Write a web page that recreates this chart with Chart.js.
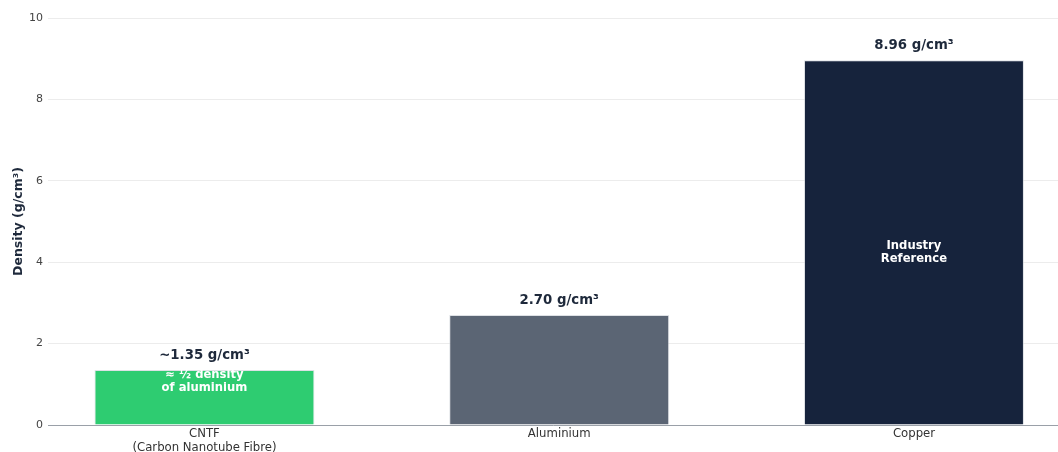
<!DOCTYPE html>
<html>
<head>
<meta charset="utf-8">
<script src="https://cdn.jsdelivr.net/npm/chart.js@4.4.1/dist/chart.umd.min.js"></script>
<style>
  html, body { margin: 0; padding: 0; background: #fff; overflow: hidden; }
  #wrap { width: 1058px; height: 452px; }
</style>
</head>
<body>
<div id="wrap"><canvas id="chart"></canvas></div>
<script>
// data
let categories = [['CNTF', '(Carbon Nanotube Fibre)'], 'Aluminium', 'Copper'];
let densities = [1.35, 2.70, 8.96];
let valueLabels = ['~1.35 g/cm³', '2.70 g/cm³', '8.96 g/cm³'];
let insideLabels = [['≈ ½ density', 'of aluminium'], null, ['Industry', 'Reference']];
let barColors = ['#2ecc71', '#5b6574', '#16233c'];
let yTicks = [0, 2, 4, 6, 8, 10];

let fontFamily = '"DejaVu Sans", Verdana, sans-serif';

// draws the value above each bar and the note inside it
let barText = {
    id: 'barText',
    afterDatasetsDraw(chart) {
        let ctx = chart.ctx;
        let meta = chart.getDatasetMeta(0);
        ctx.save();
        ctx.textAlign = 'center';
        ctx.textBaseline = 'middle';
        meta.data.forEach((bar, i) => {
            ctx.fillStyle = '#1e293b';
            ctx.font = 'bold 13.3px ' + fontFamily;
            ctx.fillText(valueLabels[i], bar.x, bar.y - 15);

            let lines = insideLabels[i];
            if (!lines) return;
            let h = bar.base - bar.y;
            let mid = h > 100 ? (bar.y + bar.base) / 2 + 10 : bar.y + 11;
            ctx.fillStyle = '#ffffff';
            ctx.font = 'bold 11.6px ' + fontFamily;
            ctx.fillText(lines[0], bar.x, mid - 6.5);
            ctx.fillText(lines[1], bar.x, mid + 6.5);
        });
        ctx.restore();
    }
};

new Chart(document.getElementById('chart'), {
    type: 'bar',
    data: {
        datasets: [{
            data: densities.map((d, i) => ({ x: i, y: d })),
            backgroundColor: barColors,
            borderColor: 'rgba(200,205,212,0.6)',
            borderWidth: 1,
            barPercentage: 0.62,
            categoryPercentage: 1
        }]
    },
    options: {
        responsive: true,
        maintainAspectRatio: false,
        animation: false,
        layout: { padding: { top: 18, right: 0, left: 0, bottom: 0 } },
        plugins: {
            legend: { display: false },
            tooltip: { enabled: false }
        },
        scales: {
            x: {
                type: 'linear',
                offset: false,
                min: -0.441,
                max: 2.406,
                afterBuildTicks(axis) {
                    axis.ticks = categories.map((c, i) => ({ value: i }));
                },
                afterFit(axis) { axis.height = 27; },
                ticks: {
                    callback: (v) => categories[v],
                    color: '#333',
                    font: { family: fontFamily, size: 11.7 },
                    padding: 2,
                    maxRotation: 0,
                    autoSkip: false
                },
                grid: { display: false, drawTicks: false },
                border: { display: true, color: '#9aa0a8', width: 1 }
            },
            y: {
                min: 0,
                max: 10,
                afterBuildTicks(axis) {
                    axis.ticks = yTicks.map(v => ({ value: v }));
                },
                afterFit(axis) { axis.width = 48; },
                ticks: {
                    color: '#444',
                    font: { family: fontFamily, size: 11 },
                    padding: 5
                },
                grid: { color: '#ececec', drawTicks: false },
                border: { display: false },
                title: {
                    display: true,
                    text: 'Density (g/cm³)',
                    color: '#1e293b',
                    font: { family: fontFamily, size: 12.5, weight: 'bold' },
                    padding: { top: 11, bottom: 0 }
                }
            }
        }
    },
    plugins: [barText]
});
</script>
</body>
</html>
